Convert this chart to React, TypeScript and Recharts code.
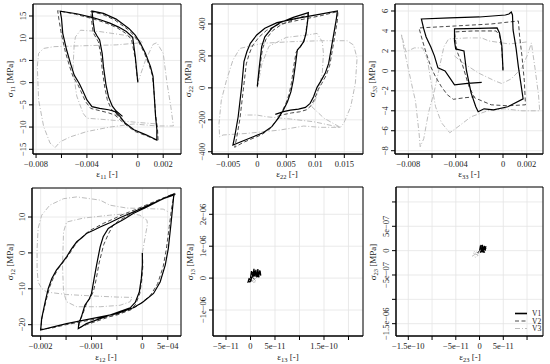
import React from 'react'
import { LineChart, Line, XAxis, YAxis, CartesianGrid, ReferenceArea } from 'recharts'

type Pt = [number, number]

// ---- panel 1 : sigma11 / eps11
const p1V1: Pt[] = [
  [0, 0.2], [-0.0002, 6], [-0.0004, 10.2], [-0.0009, 11.5], [-0.0015, 12.5], [-0.0022, 13.4], [-0.0029, 14.1], [-0.0036, 14.7], [-0.0048, 15.5], [-0.0061, 16.1],
  [-0.006, 14.5], [-0.0059, 11.1], [-0.0056, 7.4], [-0.0053, 4.4], [-0.005, 1.7], [-0.0046, -0.2], [-0.0043, -2], [-0.004, -3.9], [-0.0036, -5.4], [-0.003, -5.8], [-0.0023, -6.1], [-0.0018, -6.5], [-0.0014, -7.6], [-0.001, -9.1], [-0.0003, -10.6], [0.0007, -11.8], [0.0015, -12.9],
  [0.0015, -10.5], [0.0014, -7.6], [0.0013, -3.1], [0.0012, 1.4], [0.001, 3.6], [0.0006, 6.6], [0.0002, 8.9], [-0.0002, 10.7], [-0.0007, 12.2], [-0.0017, 14.3], [-0.0027, 15.6], [-0.0036, 16.1],
  [-0.0035, 13.5], [-0.0034, 11.5], [-0.0032, 10.5], [-0.003, 9.6], [-0.0028, 6.6], [-0.0027, 3.6], [-0.0025, -0.5], [-0.0023, -3.2], [-0.002, -5.3], [-0.0017, -6.4], [-0.0012, -7.6],
]
const p1V2: Pt[] = [
  [0, 0], [-0.0002, 5.5], [-0.0005, 9.8], [-0.001, 11.2], [-0.0016, 12.3], [-0.0023, 13.2], [-0.003, 13.9], [-0.0037, 14.5], [-0.0049, 15.4], [-0.0063, 16.2],
  [-0.0062, 14.2], [-0.006, 10.8], [-0.0057, 7.0], [-0.0054, 4.0], [-0.0051, 1.4], [-0.0047, -0.5], [-0.0044, -2.4], [-0.0041, -4.3], [-0.0037, -5.8], [-0.003, -6.3], [-0.0023, -6.8], [-0.0018, -7.3], [-0.0013, -8.6], [-0.0008, -9.8], [-0.0002, -11.0], [0.0008, -12.1], [0.0016, -13.1],
  [0.00155, -10.3], [0.0014, -7.2], [0.0013, -2.8], [0.00115, 1.6], [0.0009, 3.9], [0.0005, 6.8], [0.0001, 9.0], [-0.0003, 10.6], [-0.0008, 12.0], [-0.0018, 14.1], [-0.0028, 15.4], [-0.0037, 16.0],
  [-0.0036, 13.2], [-0.0035, 11.2], [-0.0033, 10.2], [-0.0031, 9.2], [-0.0029, 6.2], [-0.0028, 3.0], [-0.0026, -1.0], [-0.0024, -3.8], [-0.0021, -5.9], [-0.0017, -7.2], [-0.0012, -8.4],
]
const p1V3: Pt[] = [
  [0, 0], [0.0006, 5], [0.0012, 8.6], [0.0015, 9.0], [0.002, 6.6], [0.0023, -0.1], [0.0026, -5.4], [0.0028, -9.75], [0.0015, -9.75], [-0.0003, -9.3], [-0.0022, -10], [-0.004, -11], [-0.0053, -12.2], [-0.0061, -13.3], [-0.0065, -14.6],
  [-0.0069, -13.6], [-0.0074, -9.9], [-0.0078, -3.9], [-0.0079, 3.6], [-0.0078, 6.6], [-0.0074, 7.7], [-0.0066, 8.1], [-0.0043, 8.3], [-0.0017, 8.5], [0.0004, 9.0], [0.0001, 9.6], [-0.0005, 10.2],
  [-0.0011, 10.7], [-0.003, 11.5], [-0.0045, 11.8], [-0.0049, 10.3], [-0.005, 8.5], [-0.0051, 3], [-0.0048, -3], [-0.0043, -6.9], [-0.004, -8.0], [-0.0022, -8.4], [0.0002, -9.0], [0.0015, -9.3],
]
const p1XTicks = [-0.008, -0.006, -0.004, -0.002, 0, 0.002]
const p1XLabels: [number, string][] = [[-0.008, '−0.008'], [-0.004, '−0.004'], [0, '0'], [0.002, '0.002']]
const p1YTicks = [-15, -10, -5, 0, 5, 10, 15]
const p1YLabels: [number, string][] = [[-15, '−15'], [-10, '−10'], [-5, '−5'], [0, '0'], [5, '5'], [10, '10'], [15, '15']]

// ---- panel 2 : sigma22 / eps22
const p2V1: Pt[] = [
  [0, 11], [0.00035, 133], [0.00075, 258], [0.0013, 320], [0.0025, 373], [0.0039, 408], [0.0062, 441], [0.0088, 471],
  [0.0087, 425], [0.0084, 341], [0.008, 289], [0.0074, 258], [0.0069, 237], [0.0066, 153], [0.0062, 49], [0.0058, -24], [0.0052, -87], [0.0045, -139], [0.0036, -191], [0.0025, -243], [0.001, -281], [-0.0007, -306], [-0.0024, -331], [-0.0042, -358],
  [-0.0039, -306], [-0.0033, -181], [-0.0027, 7], [-0.0023, 164], [-0.0018, 226], [-0.0012, 279], [-0.0001, 331], [0.0013, 373], [0.0034, 408], [0.0068, 435], [0.0109, 462], [0.0138, 481],
  [0.0136, 425], [0.0132, 341], [0.0127, 237], [0.0123, 153], [0.0117, 91], [0.0109, 39], [0.0103, 3], [0.0097, -55], [0.0091, -97], [0.0083, -122], [0.0071, -133], [0.0057, -139], [0.0045, -149], [0.0031, -166],
]
const p2V2: Pt[] = [
  [0, 5], [0.0004, 120], [0.0009, 245], [0.0015, 305], [0.0027, 360], [0.0041, 395], [0.0063, 428], [0.0088, 458],
  [0.0086, 410], [0.0083, 330], [0.0079, 280], [0.0072, 245], [0.0067, 225], [0.0063, 140], [0.0059, 35], [0.0055, -38], [0.0049, -100], [0.0042, -152], [0.0033, -204], [0.0022, -256], [0.0007, -294], [-0.0009, -318], [-0.0025, -343], [-0.0039, -372],
  [-0.0036, -320], [-0.003, -195], [-0.0024, -8], [-0.0019, 150], [-0.0014, 212], [-0.0008, 266], [0.0003, 318], [0.0016, 360], [0.0036, 396], [0.007, 423], [0.011, 452], [0.0139, 478],
  [0.0138, 420], [0.0134, 333], [0.0129, 228], [0.0125, 143], [0.0119, 80], [0.0111, 27], [0.0105, -10], [0.0099, -68], [0.0093, -110], [0.0085, -137], [0.0073, -150], [0.0059, -157], [0.0047, -166], [0.0033, -180],
]
const p2V3: Pt[] = [
  [0, 0], [0.0008, 150], [0.002, 260], [0.005, 316], [0.0086, 331], [0.0103, 341], [0.0112, 289], [0.0114, 216], [0.0112, 91], [0.0106, -3], [0.01, -76], [0.0094, -118], [0.0115, -190], [0.0143, -247],
  [0.0109, -247], [0.008, -239], [0.0039, -264], [-0.0018, -285], [-0.0059, -295], [-0.0065, -306], [-0.0066, -222], [-0.0062, -76], [-0.0053, 49], [-0.0042, 174], [-0.003, 247],
  [0.001, 279], [0.0057, 289], [0.0109, 295], [0.0155, 295], [0.0166, 268], [0.0172, 185], [0.0169, 28], [0.0161, -118], [0.0149, -222], [0.0143, -247],
  [0.0097, -212], [0.0057, -195], [0.0016, -181], [-0.0001, -170], [-0.0021, -170],
]
const p2XTicks = [-0.005, 0, 0.005, 0.01, 0.015]
const p2XLabels: [number, string][] = [[-0.005, '−0.005'], [0, '0'], [0.005, '0.005'], [0.01, '0.01'], [0.015, '0.015']]
const p2YTicks = [-400, -200, 0, 200, 400]
const p2YLabels: [number, string][] = [[-400, '−400'], [-200, '−200'], [0, '0'], [200, '200'], [400, '400']]

// ---- panel 3 : sigma33 / eps33
const p3V1: Pt[] = [
  [0, 0.1], [-0.0001, 2.5], [-0.0003, 3.8], [-0.0005, 4.3], [-0.002, 4.25], [-0.0041, 4.2], [-0.0041, 3.0], [-0.004, 2.2], [-0.0033, 2.0], [-0.0031, 0.1], [-0.0027, -2.2], [-0.0023, -3.6], [-0.0021, -4.1],
  [-0.0016, -3.8], [-0.0008, -3.9], [0.0004, -3.6], [0.0017, -2.8], [0.0015, -1.2], [0.0013, 0.4], [0.0011, 2.3], [0.00085, 4.1], [0.0008, 5.6], [0.0007, 5.9], [0.0005, 5.7], [0.0002, 5.6],
  [-0.002, 5.4], [-0.0045, 5.3], [-0.0069, 5.2], [-0.0067, 4.2], [-0.0065, 3.4], [-0.0061, 2.4], [-0.0058, 1.5], [-0.0055, 0.3], [-0.0049, 0.0], [-0.0045, -0.7], [-0.0041, -1.4], [-0.003, -1.25], [-0.0018, -1.15],
]
const p3V2: Pt[] = [
  [0, 0], [-0.0001, 2.2], [-0.0003, 3.6], [-0.0006, 4.0], [-0.0025, 4.0], [-0.0041, 3.9], [-0.0039, 2.0], [-0.0034, 0.5], [-0.0029, -1.5], [-0.0024, -2.7], [-0.001, -3.4], [0.0004, -3.5], [0.0019, -3.4],
  [0.0018, -1], [0.0016, 1.5], [0.0014, 3.5], [0.0013, 5.0], [-0.001, 4.7], [-0.004, 4.5], [-0.0071, 4.3], [-0.0068, 3.0], [-0.0065, 1.8], [-0.0061, 0.4], [-0.0057, -0.6], [-0.0052, -1.6], [-0.0047, -2.4], [-0.0042, -2.85], [-0.0033, -2.7], [-0.0024, -2.6],
]
const p3V3: Pt[] = [
  [-0.0041, 1.5], [-0.0035, 0.9], [-0.0021, -0.2], [-0.0007, -1.0], [-0.0001, -1.27], [0.0007, -0.8], [0.0016, 0.3], [0.0021, 1.7], [0.0024, 2.8], [0.0027, 0.3], [0.003, -2.4], [0.0031, -4.0],
  [0.0016, -4.0], [0.0001, -3.8], [-0.0013, -4.0], [-0.0027, -4.6], [-0.0038, -5.6], [-0.0045, -6.2], [-0.0052, -5.2], [-0.0057, -3.6], [-0.0061, -1.0], [-0.0064, 1.2], [-0.0068, 2.3],
  [-0.0075, 2.3], [-0.0082, 1.9], [-0.0086, 3.7], [-0.0084, 2.4], [-0.008, 0.2], [-0.0076, -2.0], [-0.0074, -3.0], [-0.0071, -6.2], [-0.007, -7.6], [-0.0067, -6.8], [-0.0063, -4.2], [-0.0058, -2.0], [-0.0054, 0.2],
  [-0.005, 2.4], [-0.0046, 3.2], [-0.003, 3.3], [-0.0018, 3.3], [-0.0012, 3.0], [0.0005, 2.7], [0.0014, 2.8], [0.002, 2.9],
]
const p3XTicks = [-0.008, -0.006, -0.004, -0.002, 0, 0.002]
const p3XLabels: [number, string][] = [[-0.008, '−0.008'], [-0.004, '−0.004'], [0, '0'], [0.002, '0.002']]
const p3YTicks = [-8, -6, -4, -2, 0, 2, 4, 6]
const p3YLabels: [number, string][] = [[-8, '−8'], [-6, '−6'], [-4, '−4'], [-2, '−2'], [0, '0'], [2, '2'], [4, '4'], [6, '6']]

// ---- panel 4 : sigma12 / eps12
const p4V1: Pt[] = [
  [0, 0], [0, -3.4], [-0.00002, -7.1], [-0.00006, -10.9], [-0.00014, -13.8], [-0.00024, -15.3], [-0.0005, -16.6], [-0.00083, -18.3], [-0.0011, -19.7], [-0.00126, -21.1],
  [-0.00125, -19.7], [-0.00119, -17.4], [-0.00113, -14.6], [-0.00104, -12.7], [-0.001, -11.3], [-0.00096, -8.1], [-0.0009, -3.4], [-0.00083, 1.7], [-0.00077, 4.5], [-0.00067, 6.8], [-0.00054, 8.0], [-0.00037, 9.3], [-0.00018, 11.0], [0.00009, 12.8], [0.00035, 14.7], [0.00062, 16.4],
  [0.0006, 13.3], [0.00056, 7.7], [0.00051, 1.2], [0.00045, -3.4], [0.00035, -8.1], [0.00022, -11.3], [0, -13.8], [-0.00018, -15.3], [-0.0005, -16.9], [-0.00149, -19.7], [-0.00175, -20.6], [-0.002, -21.5],
  [-0.00198, -18.3], [-0.00191, -13.6], [-0.00185, -9.9], [-0.00178, -7.1], [-0.00169, -4.8], [-0.00159, -3.0], [-0.00149, -1.1], [-0.00139, 1.2], [-0.00129, 3.1], [-0.00119, 4.2], [-0.0011, 5.4], [-0.00096, 6.3], [-0.00083, 7.2], [-0.00064, 8.4], [-0.00044, 9.8], [-0.00018, 11.4], [0.00015, 13.5], [0.00041, 15.1], [0.00064, 16.2],
]
const p4V2: Pt[] = [
  [0, 0], [0.00001, -3.6], [-0.00001, -7.4], [-0.00005, -11.3], [-0.00013, -14.3], [-0.00023, -15.8], [-0.0005, -17.1], [-0.00083, -18.7], [-0.0011, -20.0], [-0.00125, -20.9],
  [-0.00124, -19.4], [-0.00117, -17.0], [-0.0011, -14.2], [-0.00101, -12.2], [-0.00096, -10.6], [-0.00091, -7.5], [-0.00085, -2.8], [-0.00076, 2.3], [-0.00067, 5.2], [-0.00058, 7.6], [-0.00047, 8.9], [-0.00032, 10.1], [-0.00014, 11.6], [0.00012, 13.3], [0.00037, 15.0], [0.00063, 16.6],
  [0.00058, 13.0], [0.00053, 7.4], [0.00047, 0.9], [0.00041, -3.8], [0.0003, -8.6], [0.00016, -11.8], [-0.00005, -14.3], [-0.00022, -15.8], [-0.0005, -17.3], [-0.0015, -20.0], [-0.00177, -20.9], [-0.002, -21.3],
  [-0.00197, -17.9], [-0.00189, -13.1], [-0.00182, -9.4], [-0.00174, -6.6], [-0.00165, -4.3], [-0.00155, -2.5], [-0.00145, -0.6], [-0.00134, 1.8], [-0.00124, 3.8], [-0.00114, 5.0], [-0.00104, 6.2], [-0.0009, 7.2], [-0.00077, 8.2], [-0.00058, 9.4], [-0.0004, 10.6], [-0.00015, 12.0], [0.00017, 13.9], [0.00043, 15.4], [0.00066, 16.4],
]
const p4V3: Pt[] = [
  [0, 0], [0.00005, 4], [0.0001, 8], [0.00009, 9.1], [-0.00005, 10.5], [-0.00024, 11.0], [-0.00064, 10.5], [-0.00116, 9.7], [-0.00149, 8.6], [-0.00155, 5.8], [-0.00157, -3.4], [-0.00155, -10.9], [-0.00149, -13.6],
  [-0.00129, -15.0], [-0.00083, -15.0], [-0.00044, -14.6], [-0.00024, -13.6], [-0.0002, -12.4], [-0.0005, -12.3], [-0.00096, -12.0], [-0.00149, -11.6], [-0.00188, -10.9], [-0.00198, -9.9], [-0.00205, -8.1],
  [-0.00207, -4.4], [-0.00207, 1.2], [-0.00205, 6.8], [-0.00198, 10.5], [-0.00182, 13.3], [-0.00155, 15.1], [-0.00129, 15.6], [-0.00103, 15.1], [-0.00083, 14.7], [-0.00064, 13.3], [-0.00031, 12.5], [0.00015, 12.3], [0.00041, 12.2], [0.0005, 11.5],
]
const p4XTicks = [-0.002, -0.0015, -0.001, -0.0005, 0, 0.0005]
const p4XLabels: [number, string][] = [[-0.002, '−0.002'], [-0.001, '−0.001'], [0, '0'], [0.0005, '5e−04']]
const p4YTicks = [-20, -10, 0, 10]
const p4YLabels: [number, string][] = [[-20, '−20'], [-10, '−10'], [0, '0'], [10, '10']]

// ---- panel 5 : sigma13 / eps13
const p5V1: Pt[] = [
  [0, 0], [0.2e-11, 2.2e-7], [0.5e-11, 0.3e-7], [0.7e-11, 2.9e-7], [0.9e-11, 0.5e-7], [1.1e-11, 2.6e-7], [1.3e-11, 0.2e-7], [1.5e-11, 2.8e-7], [1.7e-11, 0.6e-7], [1.9e-11, 2.4e-7],
  [2.1e-11, 0.8e-7], [2.0e-11, 1.9e-7], [0.3e-11, 1.0e-7], [2.1e-11, 1.4e-7], [0.4e-11, 1.8e-7], [1.8e-11, 0.3e-7], [0.6e-11, 2.5e-7], [1.2e-11, 1.2e-7], [0.3e-11, 0.4e-7],
  [0.1e-11, -0.6e-7], [-0.3e-11, -0.2e-7], [-0.5e-11, -1.2e-7], [0.2e-11, -0.8e-7], [-0.2e-11, -1.3e-7], [0.3e-11, 0.2e-7],
]
const p5V2: Pt[] = [[0, 0], [-0.3e-11, -0.5e-7], [0.4e-11, 0.3e-7], [0.8e-11, -0.4e-7], [1.2e-11, 0.5e-7], [0.6e-11, 1.0e-7], [0.2e-11, -0.2e-7]]
const p5V3: Pt[] = [[0, 0], [0.3e-11, -0.9e-7], [0.8e-11, -0.4e-7], [1.2e-11, -1.1e-7], [0.6e-11, -1.3e-7], [0.1e-11, -0.6e-7], [0.9e-11, -0.8e-7]]
const p5XTicks = [-5e-11, 0, 5e-11, 1e-10, 1.5e-10, 2e-10]
const p5XLabels: [number, string][] = [[-5e-11, '−5e−11'], [0, '0'], [5e-11, '5e−11'], [1.5e-10, '1.5e−10']]
const p5YTicks = [-1e-6, 0, 1e-6, 2e-6]
const p5YLabels: [number, string][] = [[-1e-6, '−1e−06'], [0, '0'], [1e-6, '1e−06'], [2e-6, '2e−06']]

// ---- panel 6 : sigma23 / eps23
const p6V1: Pt[] = [
  [0, 0], [0.2e-11, 1.1e-7], [0.4e-11, -0.3e-7], [0.6e-11, 1.2e-7], [0.8e-11, -0.4e-7], [1.0e-11, 1.0e-7], [1.2e-11, 0.0], [1.3e-11, 0.8e-7],
  [0.1e-11, 0.5e-7], [1.2e-11, 0.4e-7], [0.3e-11, -0.2e-7], [1.0e-11, -0.3e-7], [0.5e-11, 0.9e-7], [0.9e-11, 0.6e-7], [0.1e-11, -0.4e-7],
]
const p6V2: Pt[] = [[0, 0], [-0.4e-11, -0.4e-7], [0.2e-11, -0.6e-7], [0.5e-11, 0.2e-7]]
const p6V3: Pt[] = [
  [0, 0], [-0.4e-11, -0.5e-7], [-0.9e-11, -0.1e-7], [-1.4e-11, -0.4e-7], [-1.0e-11, -0.8e-7], [-1.5e-11, -1.1e-7], [-0.7e-11, -1.4e-7], [-0.3e-11, -0.9e-7], [-1.2e-11, -0.6e-7], [-0.2e-11, -0.3e-7],
]
const p6XTicks = [-1.5e-10, -1e-10, -5e-11, 0, 5e-11, 1e-10]
const p6XLabels: [number, string][] = [[-1.5e-10, '−1.5e−10'], [-5e-11, '−5e−11'], [0, '0'], [5e-11, '5e−11']]
const p6YTicks = [-1.5e-6, -1e-6, -5e-7, 0, 5e-7, 1e-6]
const p6YLabels: [number, string][] = [[-1.5e-6, '−1.5e−06'], [-5e-7, '−5e−07'], [0, '0'], [5e-7, '5e−07']]

const seriesNames = ['V1', 'V2', 'V3']
const axisSubs = ['11', '22', '33', '12', '13', '23']

const FONT = "'Liberation Serif', 'DejaVu Serif', serif"
const styles = {
  V1: { stroke: '#000', width: 1.2, dash: undefined as string | undefined },
  V2: { stroke: '#4a4a4a', width: 1, dash: '4 2.5' },
  V3: { stroke: '#bdbdbd', width: 1, dash: '5 2 1 2' },
}

const rows = (pts: Pt[]) => pts.map(([x, y]) => ({ x, y }))

const findLabel = (labels: [number, string][], v: number) => {
  const hit = labels.find(([k]) => Math.abs(k - v) <= Math.abs(k) * 1e-9 + 1e-30)
  return hit ? hit[1] : null
}

const panels = [
  { box: [0, 0, 183, 182], frame: { l: 33, r: 181, t: 4, b: 154 }, xd: [-0.00824, 0.0034], yd: [-16.06, 17.7], xt: p1XTicks, xl: p1XLabels, yt: p1YTicks, yl: p1YLabels, s: [p1V1, p1V2, p1V3] },
  { box: [183, 0, 183, 182], frame: { l: 212, r: 363, t: 4, b: 154 }, xd: [-0.00781, 0.01822], yd: [-414, 525], xt: p2XTicks, xl: p2XLabels, yt: p2YTicks, yl: p2YLabels, s: [p2V1, p2V2, p2V3] },
  { box: [366, 0, 184, 182], frame: { l: 395, r: 543, t: 4, b: 154 }, xd: [-0.00913, 0.00338], yd: [-8.33, 6.7], xt: p3XTicks, xl: p3XLabels, yt: p3YTicks, yl: p3YLabels, s: [p3V1, p3V2, p3V3] },
  { box: [0, 182, 183, 182], frame: { l: 32, r: 181, t: 188, b: 336 }, xd: [-0.00217, 0.00076], yd: [-23.15, 18.08], xt: p4XTicks, xl: p4XLabels, yt: p4YTicks, yl: p4YLabels, s: [p4V1, p4V2, p4V3] },
  { box: [183, 182, 183, 182], frame: { l: 213, r: 363, t: 187, b: 336 }, xd: [-7.65e-11, 2.296e-10], yd: [-1.815e-6, 2.856e-6], xt: p5XTicks, xl: p5XLabels, yt: p5YTicks, yl: p5YLabels, s: [p5V1, p5V2, p5V3] },
  { box: [366, 182, 184, 182], frame: { l: 396, r: 543, t: 187, b: 336 }, xd: [-1.759e-10, 1.336e-10], yd: [-1.753e-6, 1.307e-6], xt: p6XTicks, xl: p6XLabels, yt: p6YTicks, yl: p6YLabels, s: [p6V1, p6V2, p6V3] },
]

const Panel = ({ p }: { p: any }) => {
  const [left, top, width, height] = p.box
  const f = p.frame
  const margin = { top: f.t - top, right: left + width - f.r, bottom: 0, left: 0 }
  const xTick = (props: any) => {
    const t = findLabel(p.xl, props.payload.value)
    if (t === null) return <g />
    return (
      <text x={props.x} y={props.y} dy="0.71em" textAnchor="middle" fontSize={8.5} fontFamily={FONT} fill="#222">
        {t}
      </text>
    )
  }
  const yTick = (props: any) => {
    const t = findLabel(p.yl, props.payload.value)
    if (t === null) return <g />
    return (
      <text x={props.x} y={props.y} transform={`rotate(-90 ${props.x} ${props.y})`} textAnchor="middle" fontSize={8.5} fontFamily={FONT} fill="#222">
        {t}
      </text>
    )
  }
  return (
    <div style={{ position: 'absolute', left, top }}>
      <LineChart width={width} height={height} margin={margin}>
        <CartesianGrid stroke="#e4e4e4" strokeWidth={0.8} />
        <XAxis type="number" dataKey="x" domain={p.xd} ticks={p.xt} interval={0} allowDataOverflow height={top + height - f.b} tickSize={4} tickMargin={3} tick={xTick} axisLine={{ stroke: '#000' }} tickLine={{ stroke: '#000' }} />
        <YAxis type="number" dataKey="y" domain={p.yd} ticks={p.yt} interval={0} allowDataOverflow width={f.l - left} tickSize={4} tickMargin={3} tick={yTick} axisLine={{ stroke: '#000' }} tickLine={{ stroke: '#000' }} />
        <ReferenceArea x1={p.xd[0]} x2={p.xd[1]} y1={p.yd[0]} y2={p.yd[1]} fill="none" fillOpacity={0} stroke="#000" strokeWidth={1} ifOverflow="visible" />
        {[2, 1, 0].map((i) => {
          const st = (styles as any)[seriesNames[i]]
          return (
            <Line key={i} data={rows(p.s[i])} dataKey="y" type="linear" stroke={st.stroke} strokeWidth={st.width} strokeDasharray={st.dash} dot={false} isAnimationActive={false} />
          )
        })}
      </LineChart>
    </div>
  )
}

const YTitle = ({ x, y, sub, sym }: { x: number; y: number; sub: string; sym: string }) => (
  <text x={x} y={y} transform={`rotate(-90 ${x} ${y})`} textAnchor="middle" fontSize={9} fontFamily={FONT} fill="#222">
    {sym}
    <tspan dy={2} fontSize={6.5}>{sub}</tspan>
    <tspan dy={-2}>{sym === 'σ' ? ' [MPa]' : ' [-]'}</tspan>
  </text>
)
const XTitle = ({ x, y, sub }: { x: number; y: number; sub: string }) => (
  <text x={x} y={y} textAnchor="middle" fontSize={9} fontFamily={FONT} fill="#222">
    ε<tspan dy={2} fontSize={6.5}>{sub}</tspan>
    <tspan dy={-2}> [-]</tspan>
  </text>
)

export default function App() {
  const yTitlePos = [[13, 79], [191, 79], [375, 79], [13, 262], [193, 262], [376, 262]]
  const xTitlePos = [[107, 177], [287, 177], [469, 177], [106, 360], [288, 360], [470, 360]]
  const legendY = [313.5, 321, 328.5]
  return (
    <div style={{ position: 'absolute', left: 0, top: 0, width: 550, height: 364, background: '#fff' }}>
      {panels.map((p, i) => (
        <Panel key={i} p={p} />
      ))}
      <svg width={550} height={364} style={{ position: 'absolute', left: 0, top: 0, pointerEvents: 'none' }}>
        {axisSubs.map((s, i) => (
          <YTitle key={'y' + i} x={yTitlePos[i][0]} y={yTitlePos[i][1]} sub={s} sym="σ" />
        ))}
        {axisSubs.map((s, i) => (
          <XTitle key={'x' + i} x={xTitlePos[i][0]} y={xTitlePos[i][1]} sub={s} />
        ))}
        {seriesNames.map((n, i) => {
          const st = (styles as any)[n]
          return (
            <g key={n}>
              <line x1={515} x2={527} y1={legendY[i]} y2={legendY[i]} stroke={st.stroke} strokeWidth={i === 0 ? 1.6 : 1} strokeDasharray={st.dash} />
              <text x={532} y={legendY[i] + 2.8} fontSize={7.5} fontFamily={FONT} fill="#222">{n}</text>
            </g>
          )
        })}
      </svg>
    </div>
  )
}
